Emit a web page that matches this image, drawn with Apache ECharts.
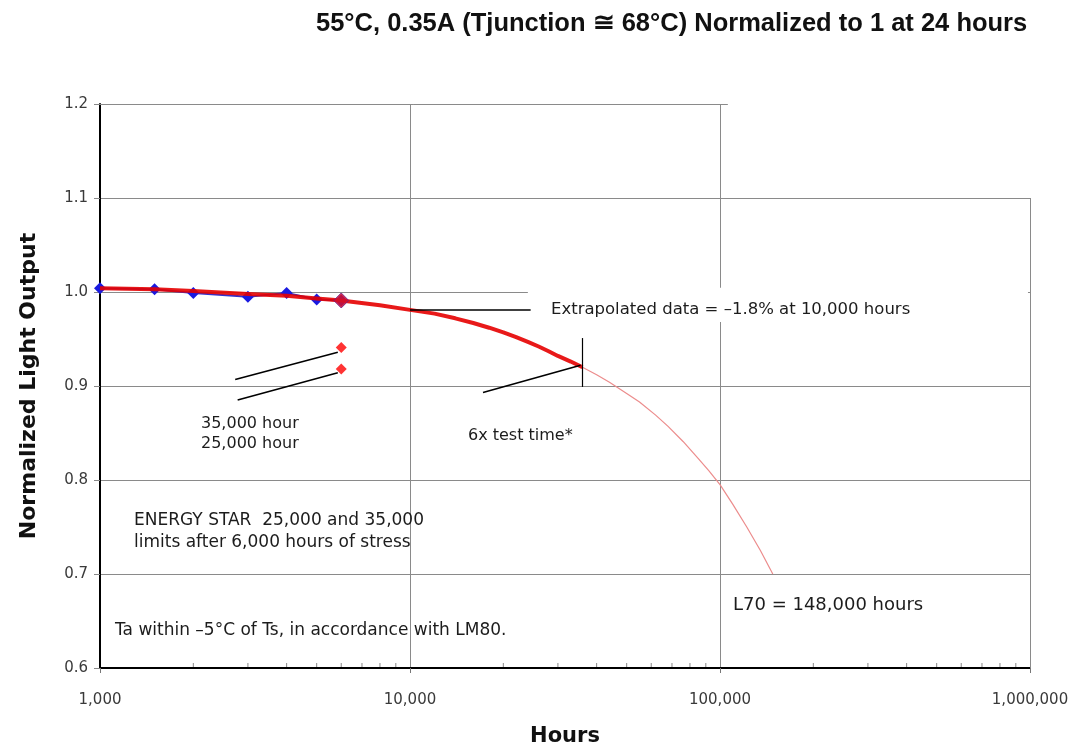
<!DOCTYPE html>
<html>
<head>
<meta charset="utf-8">
<script src="https://cdn.jsdelivr.net/npm/echarts@6/dist/echarts.min.js"></script>
<style>
  html, body { margin: 0; padding: 0; background: #fff; }
  #chart { width: 1084px; height: 746px; }
</style>
</head>
<body>
<div id="chart"></div>
<script>
// Measured lumen maintenance (hours, normalized output)
var measuredHours = [1000, 1500, 2000, 3000, 4000, 5000, 6000];
var measuredOutput = [1.004, 1.003, 0.999, 0.995, 0.999, 0.992, 0.991];

// Fitted decay curve over the test window up to 6x test time
var fitHours = [1000, 1500, 2000, 3000, 4000, 5000, 6000, 8000, 10000, 12000, 14000, 16000, 18000, 20000, 22000, 24000, 26000, 28000, 30000, 33000, 36000];
var fitOutput = [1.004, 1.003, 1.001, 0.998, 0.996, 0.993, 0.991, 0.986, 0.981, 0.977, 0.972, 0.967, 0.962, 0.957, 0.952, 0.947, 0.942, 0.937, 0.932, 0.926, 0.920];

// Extrapolation beyond 6x test time out to L70
var extrapHours = [36000, 40000, 44000, 50000, 55000, 62000, 68000, 76000, 85000, 92000, 100000, 110000, 122000, 135000, 148000];
var extrapOutput = [0.920, 0.912, 0.904, 0.892, 0.883, 0.869, 0.857, 0.841, 0.823, 0.810, 0.795, 0.774, 0.750, 0.725, 0.700];

// ENERGY STAR limits at 6,000 hours (35,000 h and 25,000 h ratings)
var limitHours = [6000, 6000];
var limitOutput = [0.941, 0.918];

// Last measurement (highlighted)
var lastHours = [6000];
var lastOutput = [0.991];

// Minor log ticks on the hours axis
var minorTickHours = [];
[1000, 10000, 100000].forEach(function (d) {
  for (var k = 2; k <= 9; k++) minorTickHours.push(d * k);
});

// Annotation arrows: [fromHours, fromOutput, toHours, toOutput]
var arrowExtrapolated = [24500, 0.981, 10000, 0.981];
var arrow35k = [2730, 0.907, 5850, 0.936];
var arrow25k = [2780, 0.885, 5850, 0.914];
var arrow6x = [17200, 0.893, 35500, 0.922];
// Marker at 6x test time: [hours, low, high]
var sixXMarker = [36000, 0.899, 0.951];
// Frame pieces: top edge ends just past 100,000 h, right edge stops at 1.1
var topEdge = [1000, 106000, 1.2];
var rightEdge = [1000000, 0.6, 1.1];

function pairs(xs, ys) {
  return xs.map(function (x, i) { return [x, ys[i]]; });
}
function arrowItem(a) {
  return [{ coord: [a[0], a[1]] }, { coord: [a[2], a[3]] }];
}

var SANS = '"Liberation Sans", Arial, sans-serif';
var WIDE = '"DejaVu Sans", Verdana, sans-serif';
var chart = echarts.init(document.getElementById('chart'), null, { renderer: 'canvas' });

function note(text, x, y, size) {
  return {
    type: 'text', x: x, y: y, z: 100,
    style: { text: text, font: (size || 16) + 'px ' + WIDE, fill: '#1c1c1c', verticalAlign: 'middle' }
  };
}

var option = {
  animation: false,
  backgroundColor: '#ffffff',
  grid: { left: 100, right: 54, top: 104, bottom: 78, show: false, outerBoundsMode: 'none', containLabel: false },
  xAxis: {
    type: 'log',
    logBase: 10,
    min: 1000,
    max: 1000000,
    name: 'Hours',
    nameLocation: 'middle',
    nameGap: 58,
    nameTextStyle: { fontFamily: WIDE, fontSize: 21, fontWeight: 'bold', color: '#111' },
    axisLine: { show: true, onZero: false, lineStyle: { color: '#000', width: 2 } },
    axisTick: { show: true, length: 5, lineStyle: { color: '#777' } },
    axisLabel: {
      margin: 25,
      fontFamily: WIDE, fontSize: 15, color: '#3a3a3a',
      formatter: function (v) { return Math.round(v).toLocaleString('en-US'); }
    },
    splitLine: { show: true, showMinLine: false, showMaxLine: false, lineStyle: { color: '#8a8a8a', width: 1 } }
  },
  yAxis: {
    type: 'value',
    min: 0.6,
    max: 1.2,
    interval: 0.1,
    name: 'Normalized Light Output',
    nameLocation: 'middle',
    nameGap: 60,
    nameTextStyle: { fontFamily: WIDE, fontSize: 22, fontWeight: 'bold', color: '#111' },
    axisLine: { show: true, lineStyle: { color: '#000', width: 2 } },
    axisTick: { show: true, length: 6, lineStyle: { color: '#888' } },
    axisLabel: {
      margin: 12,
      fontFamily: WIDE, fontSize: 15, color: '#3a3a3a',
      formatter: function (v) { return v.toFixed(1); }
    },
    splitLine: { show: true, showMinLine: false, showMaxLine: false, lineStyle: { color: '#8a8a8a', width: 1 } }
  },
  series: [
    {
      // minor log ticks along the bottom axis
      type: 'custom',
      silent: true,
      data: minorTickHours.map(function (h) { return [h, 0.6]; }),
      renderItem: function (params, api) {
        var p = api.coord([api.value(0), api.value(1)]);
        return {
          type: 'line',
          shape: { x1: p[0], y1: p[1] - 1, x2: p[0], y2: p[1] - 5 },
          style: { stroke: '#888', lineWidth: 1 }
        };
      },
      z: 1
    },
    {
      name: 'Measured',
      type: 'line',
      data: pairs(measuredHours, measuredOutput),
      symbol: 'diamond',
      symbolSize: 12,
      itemStyle: { color: '#1a1ae0' },
      lineStyle: { color: '#3333cc', width: 2 },
      z: 3
    },
    {
      name: 'Extrapolation',
      type: 'line',
      data: pairs(extrapHours, extrapOutput),
      smooth: false,
      showSymbol: false,
      lineStyle: { color: '#ec8c8c', width: 1.2 },
      z: 3,
      clip: false,
      markArea: {
        silent: true,
        itemStyle: { color: '#ffffff', opacity: 1 },
        data: [
          [{ coord: [24000, 1.0045] }, { coord: [985000, 0.968] }]
        ]
      },
      markLine: {
        silent: true,
        symbol: ['none', 'none'],
        lineStyle: { color: '#8a8a8a', width: 1, type: 'solid' },
        label: { show: false },
        data: [
          [{ coord: [topEdge[0], topEdge[2]] }, { coord: [topEdge[1], topEdge[2]] }],
          [{ coord: [rightEdge[0], rightEdge[1]] }, { coord: [rightEdge[0], rightEdge[2]] }]
        ]
      }
    },
    {
      name: 'Fit',
      type: 'line',
      data: pairs(fitHours, fitOutput),
      smooth: false,
      showSymbol: false,
      lineStyle: { color: '#e60000', width: 4, opacity: 0.9, join: 'round' },
      z: 4,
      markLine: {
        silent: true,
        symbol: ['none', 'arrow'],
        symbolSize: [0, 9],
        lineStyle: { color: '#000', width: 1.6, type: 'solid' },
        label: { show: false },
        data: [arrowItem(arrowExtrapolated), arrowItem(arrow35k), arrowItem(arrow25k), arrowItem(arrow6x)]
      }
    },
    {
      name: '6x marker',
      type: 'line',
      data: [],
      markLine: {
        silent: true,
        symbol: ['none', 'none'],
        lineStyle: { color: '#000', width: 1.2, type: 'solid' },
        label: { show: false },
        data: [[{ coord: [sixXMarker[0], sixXMarker[1]] }, { coord: [sixXMarker[0], sixXMarker[2]] }]]
      },
      z: 5
    },
    {
      name: 'Last measurement',
      type: 'scatter',
      data: pairs(lastHours, lastOutput),
      symbol: 'diamond',
      symbolSize: 15,
      itemStyle: { color: '#d4102c', opacity: 0.85, borderColor: '#6a1a8a', borderWidth: 1 },
      z: 6
    },
    {
      name: 'ENERGY STAR limits',
      type: 'scatter',
      data: pairs(limitHours, limitOutput),
      symbol: 'diamond',
      symbolSize: 11,
      itemStyle: { color: '#ff0000' },
      z: 6
    }
  ],
  graphic: [
    {
      type: 'text', x: 316, y: 24, z: 100,
      style: {
        text: '55°C, 0.35A (Tjunction ≅ 68°C) Normalized to 1 at 24 hours',
        font: 'bold 25.5px ' + SANS, fill: '#111', verticalAlign: 'middle'
      }
    },
    note('Extrapolated data = –1.8% at 10,000 hours', 551, 310, 16.5),
    note('35,000 hour', 201, 424, 16),
    note('25,000 hour', 201, 444, 16),
    note('6x test time*', 468, 436, 16),
    note('ENERGY STAR  25,000 and 35,000', 134, 521, 17),
    note('limits after 6,000 hours of stress', 134, 543, 17),
    note('L70 = 148,000 hours', 733, 605, 18),
    note('Ta within –5°C of Ts, in accordance with LM80.', 115, 631, 17)
  ]
};

chart.setOption(option);
</script>
</body>
</html>
